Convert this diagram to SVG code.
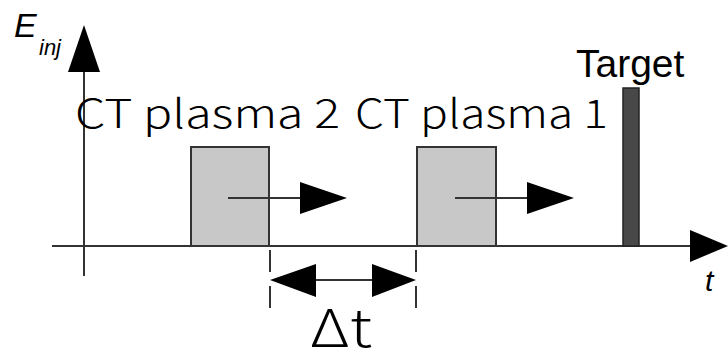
<svg xmlns="http://www.w3.org/2000/svg" width="728" height="362" viewBox="0 0 728 362">
<style>
.ax{stroke:#333;stroke-width:2;fill:none}
.hd{fill:#000}
.box{fill:#c8c8c8;stroke:#333;stroke-width:2}
.lbl{font-family:"Noto Sans CJK JP","Noto Sans",sans-serif;fill:#000;font-weight:300}
.ar{font-family:"Liberation Sans",Arial,sans-serif;fill:#000}
</style>
<rect width="728" height="362" fill="#fff"/>
<g id="axes">
<line class="ax" x1="84" y1="70" x2="84" y2="276"/>
<polygon class="hd" points="84,25 100,72 68,72"/>
<line class="ax" x1="52" y1="246" x2="692" y2="246"/>
<polygon class="hd" points="728,246 690,230 690,262"/>
<text class="ar" x="14" y="37" font-size="34" font-style="italic">E</text>
<text class="ar" x="39" y="55" font-size="22" font-style="italic">inj</text>
<text class="ar" x="705" y="291" font-size="30" font-style="italic">t</text>
</g>
<g id="ct2">
<rect class="box" x="191" y="147" width="78" height="99"/>
</g>
<g id="ct1">
<rect class="box" x="417" y="147" width="79" height="99"/>
</g>
<g id="target">
<rect x="623" y="88" width="16" height="158" fill="#484848" stroke="#222" stroke-width="1.5"/>
<text class="ar" x="576" y="77" font-size="39">Target</text>
</g>
<text class="lbl" x="75" y="128" font-size="40" textLength="265" lengthAdjust="spacingAndGlyphs">CT plasma 2</text>
<text class="lbl" x="355" y="128" font-size="40" textLength="253" lengthAdjust="spacingAndGlyphs">CT plasma 1</text>
<g id="connectors">
<line class="ax" x1="228" y1="198" x2="302" y2="198"/>
<polygon class="hd" points="347,198 300,182 300,214"/>
<line class="ax" x1="455" y1="198" x2="529" y2="198"/>
<polygon class="hd" points="574,198 527,182 527,214"/>
<line class="ax" x1="270" y1="250" x2="270" y2="309" stroke-dasharray="22,14"/>
<line class="ax" x1="416" y1="250" x2="416" y2="309" stroke-dasharray="22,14"/>
<line class="ax" x1="312" y1="280" x2="375" y2="280"/>
<polygon class="hd" points="270,280 316,264 316,297"/>
<polygon class="hd" points="416,280 372,264 372,297"/>
<text class="lbl" x="310" y="347" font-size="52" textLength="62" lengthAdjust="spacingAndGlyphs">Δt</text>
</g>
</svg>
